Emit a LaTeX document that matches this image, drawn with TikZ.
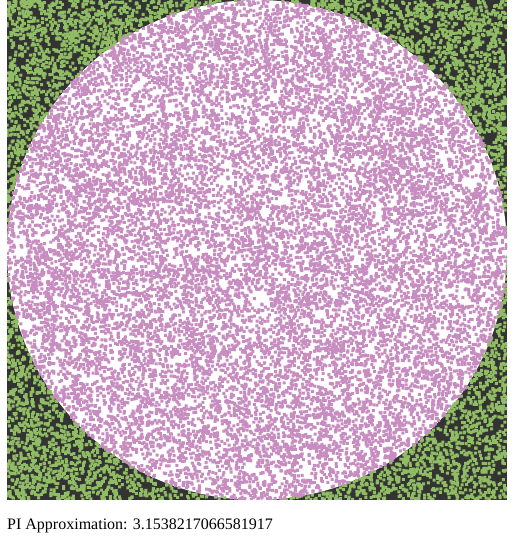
\documentclass[tikz,border=0pt]{standalone}
\usepackage{fontspec}
\setmainfont{Liberation Serif}
\usepackage{tikz}
\definecolor{mcdark}{HTML}{333333}
\definecolor{mcgreen}{HTML}{90BC64}
\definecolor{mcpink}{HTML}{C88DC0}
\tikzset{
  field/.style={fill=mcdark},
  disc/.style={fill=white},
  result/.style={anchor=base west, inner sep=0pt, font=\fontsize{16}{19}\selectfont},
}
% 100 random samples in the square; keep those inside (#2=1) or outside (#2=0) the disc
\newcount\mccount
\newcommand\mcdots[2]{%
  \begin{pgfscope}
    \pgfsetfillcolor{#1}%
    \mccount=0
    \loop
      \pgfmathsetmacro\mcu{rand}%
      \pgfmathsetmacro\mcv{rand}%
      \pgfmathparse{((\mcu*\mcu+\mcv*\mcv)<1)==#2}%
      \ifdim\pgfmathresult pt>0.5pt
        \pgfpathrectangle{\pgfpointxy{255.5+250*\mcu}{285.5+250*\mcv}}{\pgfpoint{3pt}{3pt}}%
      \fi
      \advance\mccount by 1
    \ifnum\mccount<100\repeat
    \pgfusepath{fill}%
  \end{pgfscope}}

\begin{document}
\begin{tikzpicture}[x=1pt, y=1pt]
        \useasboundingbox (0,0) rectangle (513,537);
        \fill[field] (7,37) rectangle (507,537);
        \fill[disc] (257,287) circle (250);
        \pgfmathsetseed{31415}
        \begin{scope}
          \clip (7,37) rectangle (507,537);
          \foreach \j in {1,...,215}{\mcdots{mcgreen}{0}}
          \foreach \j in {1,...,215}{\mcdots{mcpink}{1}}
        \end{scope}
        \node[result](approx) at (7,8){PI Approximation: 3.1538217066581917};
      \end{tikzpicture}
\end{document}
